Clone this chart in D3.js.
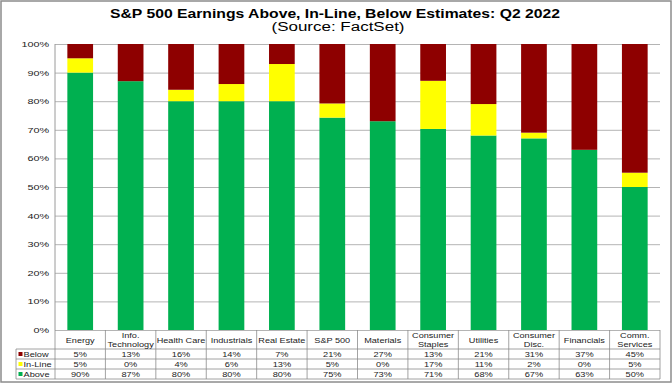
<!DOCTYPE html>
<html>
<head>
<meta charset="utf-8">
<script src="https://cdn.jsdelivr.net/npm/d3@7"></script>
<style>
  body { margin: 0; background: #fff; }
  svg { font-family: "Liberation Sans", Arial, sans-serif; display: block; }
</style>
</head>
<body>
<div id="chart"></div>
<script>
var categories = ['Energy', 'Info.\nTechnology', 'Health Care', 'Industrials', 'Real Estate', 'S&P 500',
    'Materials', 'Consumer\nStaples', 'Utilities', 'Consumer\nDisc.', 'Financials', 'Comm.\nServices'];
var below = [5, 13, 16, 14, 7, 21, 27, 13, 21, 31, 37, 45];
var inLine = [5, 0, 4, 6, 13, 5, 0, 17, 11, 2, 0, 5];
var above = [90, 87, 80, 80, 80, 75, 73, 71, 68, 67, 63, 50];
var yTicks = [0, 10, 20, 30, 40, 50, 60, 70, 80, 90, 100];

var series = [
    { key: 'Above', values: above, color: '#00B050' },
    { key: 'In-Line', values: inLine, color: '#FFFF00' },
    { key: 'Below', values: below, color: '#8E0000' }
];
var tableRows = [series[2], series[1], series[0]];

var width = 672, height = 386;
var margin = { top: 44, right: 12, bottom: 56, left: 55 };
var legendLeft = 16;
var rowH = 10;

// the reference text is drawn wider than normal, so stretch it
function stretch(sel, k) {
    sel.each(function () {
        var node = this;
        var parts = node.querySelectorAll('tspan');
        (parts.length ? Array.from(parts) : [node]).forEach(n => {
            var w = n.getComputedTextLength();
            n.setAttribute('textLength', w * k);
            n.setAttribute('lengthAdjust', 'spacingAndGlyphs');
        });
    });
}

var x = d3.scaleBand()
    .domain(categories)
    .range([margin.left, width - margin.right])
    .paddingInner(0.49)
    .paddingOuter(0.245);
var cell = d3.scaleBand()
    .domain(categories)
    .range([margin.left, width - margin.right]);
var y = d3.scaleLinear()
    .domain([0, 1])
    .range([height - margin.bottom, margin.top]);

var svg = d3.select('#chart')
    .append('svg')
    .attr('width', width)
    .attr('height', height);

svg.append('rect')
    .attr('x', 1).attr('y', 1)
    .attr('width', width - 2).attr('height', height - 5)
    .attr('fill', '#fff')
    .attr('stroke', '#8c8c8c')
    .attr('stroke-width', 1.5);

svg.append('text')
    .attr('x', 335).attr('y', 18)
    .attr('text-anchor', 'middle')
    .attr('font-size', 13).attr('font-weight', 'bold')
    .text('S&P 500 Earnings Above, In-Line, Below Estimates: Q2 2022')
    .attr('textLength', 450).attr('lengthAdjust', 'spacingAndGlyphs');
svg.append('text')
    .attr('x', 338).attr('y', 31)
    .attr('text-anchor', 'middle')
    .attr('font-size', 12.5)
    .text('(Source: FactSet)')
    .attr('textLength', 133).attr('lengthAdjust', 'spacingAndGlyphs');

var yAxis = g => g
    .attr('transform', `translate(${margin.left},0)`)
    .call(d3.axisLeft(y)
        .tickValues(yTicks.map(d => d / 100))
        .tickFormat(d => Math.round(d * 100) + '%')
        .tickSize(-(width - margin.left - margin.right))
        .tickPadding(6))
    .call(g => g.select('.domain').remove())
    .call(g => g.selectAll('.tick line').attr('stroke', '#b4b4b4'))
    .call(g => g.selectAll('.tick text').attr('font-size', 8).attr('fill', '#222'));
var yg = svg.append('g').call(yAxis);
stretch(yg.selectAll('.tick text'), 1.35);

svg.append('line')
    .attr('x1', margin.left).attr('x2', margin.left)
    .attr('y1', y(1)).attr('y2', y(0))
    .attr('stroke', '#9a9a9a');

// 100% stacked bars
var stacked = d3.stack()
    .keys([0, 1, 2])
    .offset(d3.stackOffsetExpand)(categories.map((c, i) => series.map(s => s.values[i])));
stacked.forEach((layer, k) => {
    svg.append('g')
        .attr('fill', series[k].color)
        .selectAll('rect').data(layer).enter().append('rect')
        .attr('x', (d, i) => x(categories[i]))
        .attr('y', d => y(d[1]))
        .attr('height', d => y(d[0]) - y(d[1]))
        .attr('width', x.bandwidth());
});

// data table
var tTop = y(0);
var hdrH = 19;
var tBottom = tTop + hdrH + rowH * 3;
var tg = svg.append('g').attr('stroke', '#8c8c8c').attr('stroke-width', 0.8);

categories.forEach(c => {
    tg.append('line')
        .attr('x1', cell(c)).attr('x2', cell(c))
        .attr('y1', tTop).attr('y2', tBottom);
});
tg.append('line')
    .attr('x1', width - margin.right).attr('x2', width - margin.right)
    .attr('y1', tTop).attr('y2', tBottom);
tg.append('line')
    .attr('x1', legendLeft).attr('x2', legendLeft)
    .attr('y1', tTop + hdrH).attr('y2', tBottom);
[0, 1, 2, 3].forEach(r => {
    tg.append('line')
        .attr('x1', legendLeft).attr('x2', width - margin.right)
        .attr('y1', tTop + hdrH + r * rowH).attr('y2', tTop + hdrH + r * rowH);
});

categories.forEach(c => {
    var lines = c.split('\n');
    var t = svg.append('text')
        .attr('class', 'hdr')
        .attr('text-anchor', 'middle')
        .attr('font-size', 8)
        .attr('fill', '#222');
    lines.forEach((l, j) => {
        t.append('tspan')
            .attr('x', cell(c) + cell.bandwidth() / 2)
            .attr('y', tTop + hdrH / 2 + 3 + (j - (lines.length - 1) / 2) * 8.5)
            .text(l);
    });
});
stretch(svg.selectAll('text.hdr'), 1.14);

tableRows.forEach((s, r) => {
    var ry = tTop + hdrH + r * rowH;
    svg.append('rect')
        .attr('x', legendLeft + 2.5).attr('y', ry + 3)
        .attr('width', 4).attr('height', 4)
        .attr('fill', s.color);
    svg.append('text')
        .attr('class', 'tbl')
        .attr('x', legendLeft + 7.5).attr('y', ry + 8.3)
        .attr('font-size', 8).attr('fill', '#222')
        .text(s.key);
    svg.append('g')
        .selectAll('text').data(s.values).enter().append('text')
        .attr('class', 'tbl')
        .attr('x', (d, i) => cell(categories[i]) + cell.bandwidth() / 2)
        .attr('y', ry + 8.3)
        .attr('text-anchor', 'middle')
        .attr('font-size', 8).attr('fill', '#222')
        .text(d => d + '%');
});
stretch(svg.selectAll('text.tbl'), 1.15);
</script>
</body>
</html>
